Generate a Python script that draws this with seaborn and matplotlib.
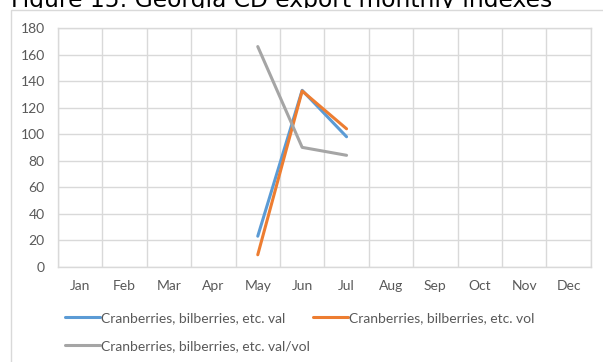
import numpy as np
import pandas as pd
import seaborn as sns
import matplotlib.pyplot as plt
from matplotlib.lines import Line2D
from matplotlib.patches import Rectangle

# Monthly export indexes
months = ["Jan", "Feb", "Mar", "Apr", "May", "Jun", "Jul", "Aug", "Sep", "Oct", "Nov", "Dec"]
series_names = [
    "Cranberries, bilberries, etc. val",
    "Cranberries, bilberries, etc. vol",
    "Cranberries, bilberries, etc. val/vol",
]
nan = np.nan
val = [nan, nan, nan, nan, 23, 133, 98, nan, nan, nan, nan, nan]
vol = [nan, nan, nan, nan, 9, 132.5, 104, nan, nan, nan, nan, nan]
val_vol = [nan, nan, nan, nan, 166, 90, 84, nan, nan, nan, nan, nan]
y_ticks = [0, 20, 40, 60, 80, 100, 120, 140, 160, 180]
colors = ["#5B9BD5", "#ED7D31", "#A5A5A5"]
title = "Figure 15: Georgia CD export monthly indexes"

rows = []
for name, values in zip(series_names, [val, vol, val_vol]):
    for i, v in enumerate(values):
        if not np.isnan(v):
            rows.append({"pos": i, "value": v, "series": name})
df = pd.DataFrame(rows)

sns.set_theme(style="white")
plt.rcParams["font.family"] = ["Lato", "DejaVu Sans"]

W, H = 603, 362
fig = plt.figure(figsize=(W / 100, H / 100), dpi=100)
fig.patch.set_facecolor("white")

left, right, top, bottom = 58, 590.7, 28, 266.7
ax = fig.add_axes([left / W, 1 - bottom / H, (right - left) / W, (bottom - top) / H])

sns.lineplot(data=df, x="pos", y="value", hue="series", hue_order=series_names,
             palette=colors, linewidth=2.2, sort=False, legend=False, ax=ax,
             solid_capstyle="round")

grid_c = "#D9D9D9"
text_c = "#595959"
fs = 10
ax.set_xlim(-0.5, len(months) - 0.5)
ax.set_ylim(y_ticks[0], y_ticks[-1])
ax.set_xticks(range(len(months)))
ax.set_xticklabels(months)
ax.set_xticks(np.arange(-0.5, len(months), 1), minor=True)
ax.set_yticks(y_ticks)
ax.grid(False)
ax.grid(True, which="minor", axis="x", color=grid_c, linewidth=1)
ax.grid(True, which="major", axis="y", color=grid_c, linewidth=1)
ax.set_axisbelow(True)
for s in ax.spines.values():
    s.set_color(grid_c)
    s.set_linewidth(1)
ax.tick_params(axis="both", which="both", length=0, colors=text_c, labelsize=fs)
ax.tick_params(axis="x", pad=9.5)
ax.tick_params(axis="y", pad=9.5)
ax.set_xlabel("")
ax.set_ylabel("")

handles = [Line2D([], [], color=c, linewidth=2.2) for c in colors]
order = [0, 2, 1]
leg = fig.legend([handles[i] for i in order], [series_names[i] for i in order],
                 ncol=2, loc="upper left", bbox_to_anchor=(65 / W, 1 - 312 / H),
                 frameon=False, fontsize=fs, handlelength=2.52, handletextpad=0.08,
                 columnspacing=0.22, labelspacing=1.14, borderpad=0, borderaxespad=0)
for t in leg.get_texts():
    t.set_color(text_c)

# Title, cut off at its baseline, above the chart frame
fig.text(11 / W, 1 - 7.5 / H, title, fontsize=16.8, family=["DejaVu Sans"],
         color="#000000", va="baseline", ha="left")
fig.add_artist(Rectangle((0, 1 - 22 / H), 1, 14.5 / H, transform=fig.transFigure,
                         facecolor="white", edgecolor="none", zorder=5))
fig.add_artist(Rectangle((10.7 / W, -0.1), 1.2, 1.1 - 10.5 / H, transform=fig.transFigure,
                         facecolor="none", edgecolor=grid_c, linewidth=1, zorder=6))

fig.savefig("out.png", dpi=100)
